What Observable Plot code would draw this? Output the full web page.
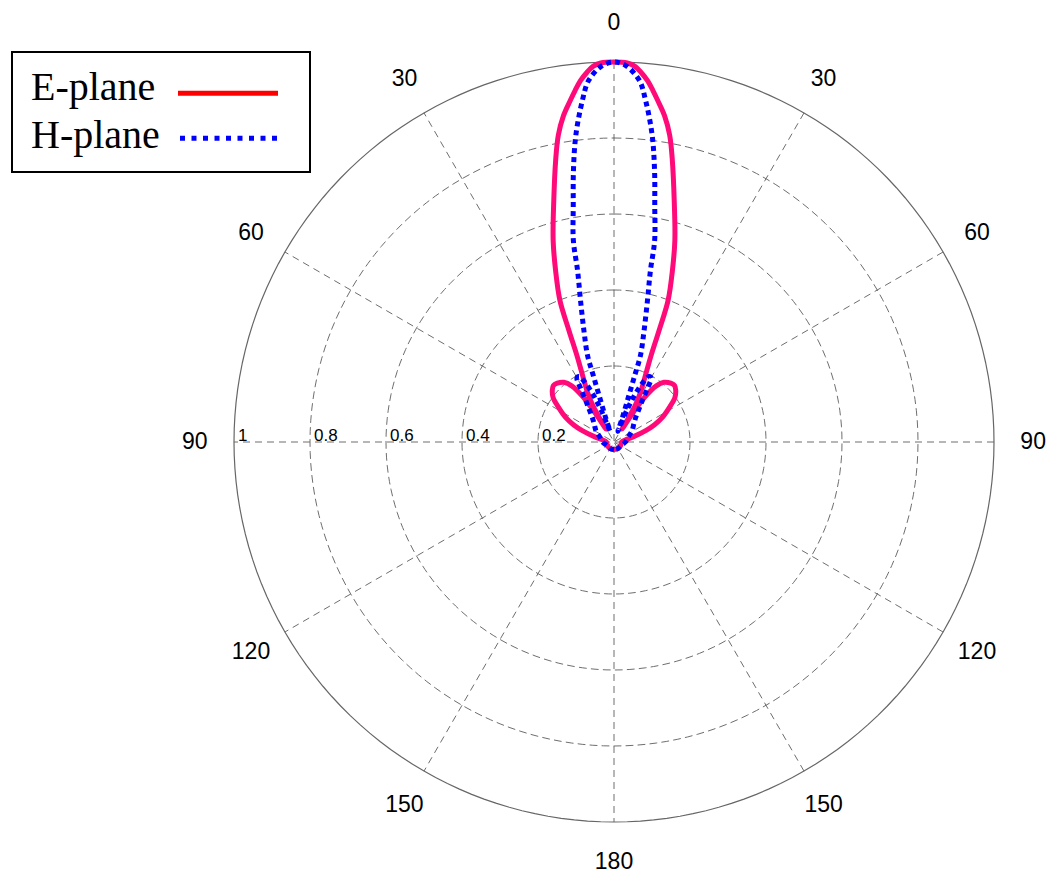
<!DOCTYPE html>
<html>
<head>
<meta charset="utf-8">
<script src="https://cdn.jsdelivr.net/npm/d3@7"></script>
<script src="https://cdn.jsdelivr.net/npm/@observablehq/plot@0.6"></script>
<style>
  html, body { margin: 0; padding: 0; background: #fff; }
  #wrap { position: relative; width: 1047px; height: 872px; }
  #legend { position: absolute; left: 11px; top: 51px; width: 300px; height: 122px; box-sizing: border-box;
            border: 2px solid #000; background: #fff; font-family: "Liberation Serif", "Times New Roman", serif; font-size: 40px; color: #000; }
  #legend span { position: absolute; line-height: 40px; white-space: nowrap; }
  #legend svg { position: absolute; left: 0; top: 0; }
</style>
</head>
<body>
<div id="wrap">
  <div id="chart"></div>
  <div id="legend">
    <span style="left:18px; top:14px;">E-plane</span>
    <span style="left:18px; top:62px;">H-plane</span>
    <svg width="296" height="118">
      <line x1="165" x2="265" y1="40.3" y2="40.3" stroke="#ff0000" stroke-width="5"/>
      <line x1="167" x2="265" y1="85.3" y2="85.3" stroke="#0000ff" stroke-width="5" stroke-dasharray="5,6.5"/>
    </svg>
  </div>
</div>
<script>
// ---- data ----
const eAngles = [0, 2, 3.2, 4.2, 5.3, 6.3, 7.3, 8.8, 10.3, 11.7, 14, 16.8, 18.8, 20.9, 22, 23.2, 24.5, 26, 28, 30, 31, 32, 33, 34.5, 37, 40, 44, 47, 50, 54, 58, 63, 67, 70, 75, 80, 90, 120, 150, 180];
const eValues = [1, 0.998, 0.99, 0.975, 0.955, 0.931, 0.906, 0.869, 0.82, 0.757, 0.655, 0.554, 0.477, 0.399, 0.316, 0.248, 0.21, 0.18, 0.15, 0.115, 0.08, 0.04, 0.09, 0.145, 0.185, 0.205, 0.215, 0.218, 0.212, 0.198, 0.172, 0.143, 0.115, 0.09, 0.052, 0.03, 0.02, 0.02, 0.02, 0.02];

const hAngles = [0, 1.8, 4, 5.3, 7.1, 8.5, 9.8, 11.4, 12, 13.3, 15.1, 17, 17.3, 17.8, 19, 20, 22, 24, 26, 28, 30, 32, 34.5, 37, 41, 48, 58, 70, 90, 120, 150, 180];
const hValues = [1, 0.991, 0.954, 0.902, 0.813, 0.722, 0.63, 0.541, 0.461, 0.383, 0.304, 0.238, 0.184, 0.123, 0.068, 0.03, 0.09, 0.14, 0.175, 0.195, 0.195, 0.165, 0.13, 0.11, 0.088, 0.07, 0.056, 0.04, 0.03, 0.02, 0.02, 0.02];

const ringTicks = [0.2, 0.4, 0.6, 0.8];
const ringLabels = ["0.2", "0.4", "0.6", "0.8", "1"];
const ringLabelValues = [0.2, 0.4, 0.6, 0.8, 1];
const spokeAngles = [0, 30, 60, 90, 120, 150];
const angleTicks = [0, 30, 60, 90, 120, 150, 180, -30, -60, -90, -120, -150];

// ---- helpers ----
const rad = d => d * Math.PI / 180;
const toXY = (a, r) => ({x: r * Math.sin(rad(a)), y: r * Math.cos(rad(a))});
function mirrored(angles, values) {
  const pts = [];
  for (let i = angles.length - 1; i >= 1; i--) pts.push(toXY(-angles[i], values[i]));
  for (let i = 0; i < angles.length; i++) pts.push(toXY(angles[i], values[i]));
  return pts;
}
const circleSteps = d3.range(0, 361, 2);
const rings = ringTicks.flatMap(r => circleSteps.map(a => ({r, ...toXY(a, r)})));
const outer = circleSteps.map(a => toXY(a, 1));
const spokes = spokeAngles.map(a => ({a, p1: toXY(a, 1), p2: toXY(a + 180, 1)}));

const ePts = mirrored(eAngles, eValues);
const hPts = mirrored(hAngles, hValues);

const cx = 613.5, cy = 441.5, R = 380;
const grid = "#6e6e6e";

const chart = Plot.plot({
  width: 1047,
  height: 872,
  margin: 0,
  style: {fontFamily: "'Liberation Sans', Arial, sans-serif", background: "#fff", color: "#000"},
  x: {domain: [-1, 1], range: [cx - R, cx + R], axis: null},
  y: {domain: [-1, 1], range: [cy + R, cy - R], axis: null},
  marks: [
    Plot.line(rings, {x: "x", y: "y", z: "r", stroke: grid, strokeWidth: 1, strokeDasharray: "7,5"}),
    Plot.link(spokes, {x1: d => d.p1.x, y1: d => d.p1.y, x2: d => d.p2.x, y2: d => d.p2.y, stroke: grid, strokeWidth: 1, strokeDasharray: "7,5"}),
    Plot.line(outer, {x: "x", y: "y", stroke: "#666", strokeWidth: 1.2}),
    Plot.text(ringLabelValues, {x: d => -d, y: 0, text: (d, i) => ringLabels[i], textAnchor: "start", lineAnchor: "bottom", dx: 4, dy: -1, fontSize: 17, fill: "#000"}),
    Plot.text(angleTicks, {x: d => toXY(d, 1.103).x, y: d => toXY(d, 1.103).y, text: d => String(Math.abs(d)), fontSize: 23, fill: "#000"}),
    Plot.line(ePts, {x: "x", y: "y", stroke: "#ff0a78", strokeWidth: 5, curve: "catmull-rom", strokeLinejoin: "round"}),
    Plot.line(hPts, {x: "x", y: "y", stroke: "#0000ff", strokeWidth: 5, curve: "catmull-rom", strokeDasharray: "5,4", strokeLinecap: "butt"})
  ]
});
document.getElementById("chart").appendChild(chart);
</script>
</body>
</html>
